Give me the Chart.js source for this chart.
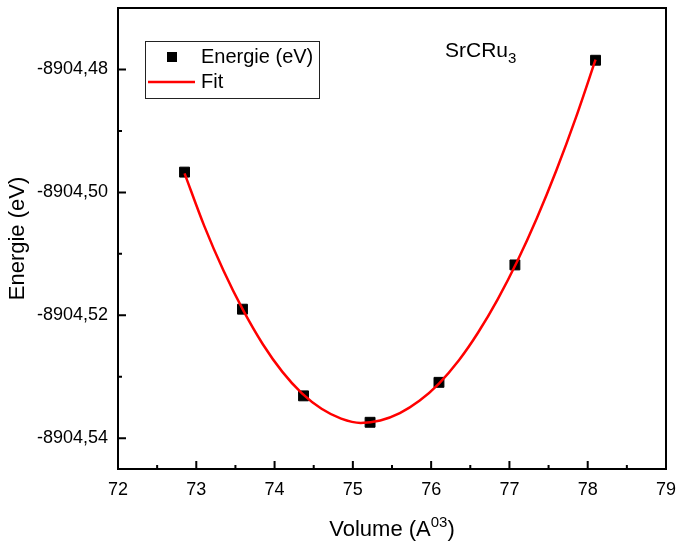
<!DOCTYPE html>
<html>
<head>
<meta charset="utf-8">
<script src="https://cdn.jsdelivr.net/npm/chart.js@4.4.1/dist/chart.umd.min.js"></script>
<style>
  html, body { margin: 0; padding: 0; background: #fff; }
  #wrap { width: 678px; height: 544px; }
</style>
</head>
<body>
<div id="wrap"><canvas id="eosChart" width="678" height="544"></canvas></div>
<script>
// measured points
const volume = [72.85, 73.59, 74.37, 75.22, 76.10, 77.07, 78.10];
const energy = [-8904.4967, -8904.5190, -8904.5331, -8904.5374, -8904.5309, -8904.5118, -8904.4785];

// fit curve
const fitVolume = [72.85, 73.10, 73.35, 73.60, 73.85, 74.10, 74.35, 74.60, 74.85, 75.10, 75.35,
                   75.60, 75.85, 76.10, 76.35, 76.60, 76.85, 77.10, 77.35, 77.60, 77.85, 78.10];
const fitEnergy = [-8904.4969, -8904.5054, -8904.5128, -8904.5192, -8904.5247, -8904.5292,
                   -8904.5327, -8904.5352, -8904.5368, -8904.5375, -8904.5371, -8904.5359,
                   -8904.5339, -8904.5311, -8904.5274, -8904.5228, -8904.5174, -8904.5112,
                   -8904.5042, -8904.4964, -8904.4878, -8904.4784];

// axis ticks
const xTicks = [72, 73, 74, 75, 76, 77, 78, 79];
const xMinor = [72.5, 73.5, 74.5, 75.5, 76.5, 77.5, 78.5];
const yTicks = [-8904.54, -8904.52, -8904.50, -8904.48];
const yMinor = [-8904.53, -8904.51, -8904.49];

const FONT = 'Arial, "Liberation Sans", sans-serif';

// frame, inward ticks, titles, legend and label
const decorPlugin = {
  id: 'decor',
  afterDatasetsDraw(chart) {
    const ctx = chart.ctx;
    const a = chart.chartArea;
    const xs = chart.scales.x, ys = chart.scales.y;
    ctx.save();
    ctx.strokeStyle = '#000';
    ctx.lineWidth = 2;
    ctx.strokeRect(a.left, a.top, a.right - a.left, a.bottom - a.top);

    ctx.beginPath();
    xTicks.forEach(v => { const p = xs.getPixelForValue(v); ctx.moveTo(p, a.bottom); ctx.lineTo(p, a.bottom - 8); });
    xMinor.forEach(v => { const p = xs.getPixelForValue(v); ctx.moveTo(p, a.bottom); ctx.lineTo(p, a.bottom - 4); });
    yTicks.forEach(v => { const p = ys.getPixelForValue(v); ctx.moveTo(a.left, p); ctx.lineTo(a.left + 8, p); });
    yMinor.forEach(v => { const p = ys.getPixelForValue(v); ctx.moveTo(a.left, p); ctx.lineTo(a.left + 4, p); });
    ctx.stroke();

    ctx.fillStyle = '#000';
    // y title
    ctx.save();
    ctx.translate(18, (a.top + a.bottom) / 2);
    ctx.rotate(-Math.PI / 2);
    ctx.font = '22px ' + FONT;
    ctx.textAlign = 'center';
    ctx.textBaseline = 'middle';
    ctx.fillText('Energie (eV)', 0, 0);
    ctx.restore();

    // x title with superscript
    ctx.font = '22px ' + FONT;
    const p1 = 'Volume (A', p3 = ')';
    const w1 = ctx.measureText(p1).width, w3 = ctx.measureText(p3).width;
    ctx.font = '15px ' + FONT;
    const w2 = ctx.measureText('03').width;
    let x0 = (a.left + a.right) / 2 - (w1 + w2 + w3) / 2;
    const base = 536;
    ctx.textAlign = 'left';
    ctx.textBaseline = 'alphabetic';
    ctx.font = '22px ' + FONT;
    ctx.fillText(p1, x0, base);
    ctx.font = '15px ' + FONT;
    ctx.fillText('03', x0 + w1, base - 9);
    ctx.font = '22px ' + FONT;
    ctx.fillText(p3, x0 + w1 + w2, base);

    // compound label
    ctx.font = '21px ' + FONT;
    ctx.fillText('SrCRu', 445, 57);
    const ws = ctx.measureText('SrCRu').width;
    ctx.font = '15px ' + FONT;
    ctx.fillText('3', 445 + ws, 63);

    // legend box
    ctx.lineWidth = 1;
    ctx.strokeStyle = '#222';
    ctx.strokeRect(145.5, 41.5, 174, 57);
    const ds = chart.data.datasets;
    ctx.fillStyle = ds[1].pointBackgroundColor;
    ctx.fillRect(167, 52, 10, 10);
    ctx.strokeStyle = ds[0].borderColor;
    ctx.lineWidth = 2.5;
    ctx.beginPath(); ctx.moveTo(148, 82); ctx.lineTo(195, 82); ctx.stroke();
    ctx.fillStyle = '#000';
    ctx.font = '20px ' + FONT;
    ctx.textBaseline = 'middle';
    ctx.fillText(ds[1].label, 201, 57);
    ctx.fillText(ds[0].label, 201, 82);
    ctx.restore();
  }
};

const ctx = document.getElementById('eosChart').getContext('2d');
new Chart(ctx, {
  type: 'scatter',
  data: {
    datasets: [
      {
        label: 'Fit',
        data: fitVolume.map((v, i) => ({ x: v, y: fitEnergy[i] })),
        showLine: true,
        borderColor: '#ff0000',
        borderWidth: 2.5,
        pointRadius: 0,
        cubicInterpolationMode: 'monotone',
        order: 0
      },
      {
        label: 'Energie (eV)',
        data: volume.map((v, i) => ({ x: v, y: energy[i] })),
        pointStyle: 'rect',
        pointRadius: 7,
        pointBackgroundColor: '#000',
        pointBorderColor: '#000',
        pointBorderWidth: 1,
        order: 1
      }
    ]
  },
  options: {
    responsive: false,
    animation: false,
    devicePixelRatio: 1,
    layout: { padding: { top: 7, right: 12, left: 0, bottom: 0 } },
    plugins: { legend: { display: false }, tooltip: { enabled: false } },
    scales: {
      x: {
        type: 'linear', min: 72, max: 79,
        afterBuildTicks: s => { s.ticks = xTicks.map(v => ({ value: v })); },
        afterFit: s => { s.height = 75; s.paddingLeft = 0; s.paddingRight = 0; },
        grid: { display: false, drawTicks: false },
        border: { display: false },
        ticks: { color: '#000', font: { family: FONT, size: 18 }, padding: 10 }
      },
      y: {
        type: 'linear', min: -8904.545, max: -8904.47,
        afterBuildTicks: s => { s.ticks = yTicks.map(v => ({ value: v })); },
        afterFit: s => { s.width = 118; s.paddingTop = 0; s.paddingBottom = 0; },
        grid: { display: false, drawTicks: false },
        border: { display: false },
        ticks: {
          color: '#000', font: { family: FONT, size: 18 }, padding: 10,
          callback: v => v.toFixed(2).replace('.', ',')
        }
      }
    }
  },
  plugins: [decorPlugin]
});
</script>
</body>
</html>
